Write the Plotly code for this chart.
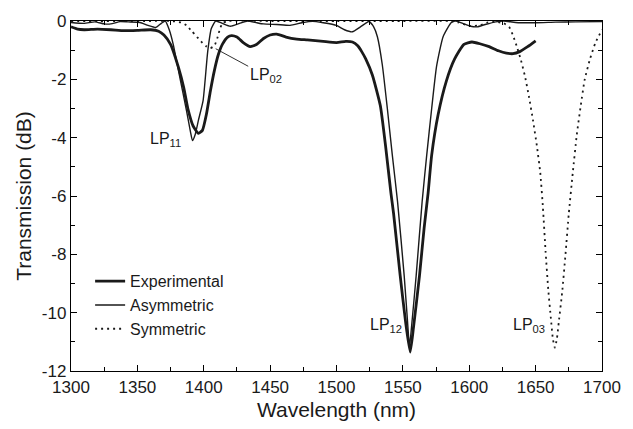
import plotly.graph_objects as go

# ---------------- data ----------------
exp_wl = [1300, 1305, 1310, 1320, 1330, 1340, 1350, 1360, 1366, 1370, 1375, 1381, 1385,
          1388, 1392, 1396, 1399, 1402, 1405, 1408, 1411, 1414, 1418, 1421, 1425, 1430,
          1435, 1440, 1445, 1450, 1455, 1462, 1470, 1478, 1490, 1500, 1507, 1512, 1516,
          1519, 1522, 1527, 1533, 1537, 1541, 1543, 1548, 1552, 1555.5, 1558, 1562.5,
          1566, 1569, 1571.7, 1576.6, 1582.8, 1589, 1596, 1602, 1608, 1615, 1622, 1628,
          1633, 1638, 1644, 1650]
exp_db = [-0.2, -0.28, -0.3, -0.28, -0.3, -0.33, -0.32, -0.3, -0.35, -0.48, -0.8, -1.6, -2.3,
          -3.0, -3.6, -3.85, -3.75, -3.2, -2.4, -1.7, -1.15, -0.8, -0.55, -0.5, -0.55, -0.75,
          -0.88, -0.8, -0.6, -0.48, -0.45, -0.55, -0.62, -0.65, -0.7, -0.74, -0.7, -0.72, -0.85,
          -1.05, -1.3, -1.85, -2.9, -4.3, -5.9, -6.6, -8.74, -10.3, -11.35, -10.5, -8.74,
          -7.1, -5.9, -4.6, -3.2, -2.05, -1.3, -0.8, -0.72, -0.78, -0.88, -1.02, -1.1,
          -1.12, -1.05, -0.88, -0.68]

asym_wl = [1300, 1310, 1318, 1325, 1330, 1337, 1343, 1352, 1358, 1364, 1368, 1371, 1374,
           1377, 1382, 1387, 1390, 1391.5, 1393.5, 1396, 1399.5, 1403, 1405.7, 1409, 1414,
           1420, 1427, 1433, 1440, 1445, 1455, 1465, 1474, 1482, 1490, 1500, 1506, 1512,
           1518, 1524.5, 1528, 1530.8, 1534.5, 1538.3, 1542, 1546, 1551, 1553.5, 1555,
           1556.5, 1560, 1564.5, 1568, 1571.7, 1575.4, 1580.3, 1586.5, 1590, 1596, 1601,
           1606, 1612, 1620, 1626, 1635, 1650, 1665, 1680, 1700]
asym_db = [-0.05, -0.08, -0.03, -0.1, -0.1, -0.02, -0.03, -0.05, -0.15, -0.22, -0.08, 0.0, -0.3,
           -0.8, -1.94, -3.07, -3.8, -4.1, -3.9, -3.4, -2.73, -1.04, -0.26, 0.0, -0.08,
           -0.18, -0.08, 0.0, -0.06, -0.1, -0.12, -0.15, -0.06, -0.01, -0.06, -0.15, -0.3, -0.37,
           -0.2, -0.02, -0.2, -0.54, -1.5, -3.0, -4.58, -6.2, -8.74, -10.3, -11.15,
           -10.5, -8.74, -6.2, -4.58, -3.0, -1.55, -0.54, -0.05, 0.0, -0.1, -0.18,
           -0.2, -0.12, -0.03, 0.0, -0.05, -0.06, -0.04, -0.03, -0.02]

sym_wl = [1300, 1320, 1340, 1360, 1375, 1383, 1387, 1391, 1395, 1399, 1402, 1405, 1408,
          1410.5, 1412, 1414, 1418, 1450, 1500, 1550, 1585, 1592, 1600, 1608, 1614, 1620,
          1626, 1630, 1633, 1636, 1639, 1642, 1645, 1648, 1651, 1653.5, 1655.5, 1657.5,
          1659.5, 1661.5, 1663, 1664.5, 1666, 1667.5, 1670, 1672.5, 1675, 1678, 1681, 1684,
          1687, 1691, 1695, 1700]
sym_db = [0.0, 0.0, 0.0, 0.0, 0.0, -0.05, -0.15, -0.35, -0.55, -0.75, -0.87, -0.93, -0.85,
          -0.55, -0.3, -0.08, 0.0, 0.0, 0.0, 0.0, 0.0, -0.05, -0.17, -0.15, -0.05, -0.03,
          -0.08, -0.2, -0.5, -0.9, -1.35, -1.9, -2.6, -3.4, -4.3, -5.2, -6.4, -7.9,
          -9.2, -10.2, -10.9, -11.2, -10.9, -10.3, -9.3, -8.0, -6.6, -5.2, -3.9, -2.9,
          -2.0, -1.3, -0.75, -0.3]

series_names = ["Experimental", "Asymmetric", "Symmetric"]

x_ticks = [1300, 1350, 1400, 1450, 1500, 1550, 1600, 1650, 1700]
y_ticks = [0, -2, -4, -6, -8, -10, -12]
y_ticktext = ["0", "-2", "-4", "-6", "-8", "-10", "-12"]

mode_labels = ["LP<sub>11</sub>", "LP<sub>02</sub>", "LP<sub>12</sub>", "LP<sub>03</sub>"]
mode_label_wl = [1371, 1443, 1537, 1645]
mode_label_db = [-4.05, -1.8, -10.45, -10.45]

lp02_tip_wl = 1409
lp02_tip_db = -0.95

# ---------------- figure ----------------
FONT = "Liberation Sans, Arial, Helvetica, sans-serif"

fig = go.Figure()
fig.add_trace(go.Scatter(x=exp_wl, y=exp_db, name=series_names[0], mode="lines",
                         line=dict(color="#1a1a1a", width=2.8, shape="spline", smoothing=0.5)))
fig.add_trace(go.Scatter(x=asym_wl, y=asym_db, name=series_names[1], mode="lines",
                         line=dict(color="#1a1a1a", width=1.4, shape="spline", smoothing=0.5)))
fig.add_trace(go.Scatter(x=sym_wl, y=sym_db, name=series_names[2], mode="lines",
                         line=dict(color="#1a1a1a", width=1.8, dash="2px,4px",
                                   shape="spline", smoothing=0.5)))

for i, txt in enumerate(mode_labels):
    if i == 1:
        fig.add_annotation(x=lp02_tip_wl, y=lp02_tip_db, text=txt, showarrow=True,
                           arrowhead=0, arrowwidth=0.9, arrowcolor="#1a1a1a",
                           ax=50, ay=27, standoff=0,
                           font=dict(family=FONT, size=16, color="#1a1a1a"))
    else:
        fig.add_annotation(x=mode_label_wl[i], y=mode_label_db[i], text=txt,
                           showarrow=False,
                           font=dict(family=FONT, size=16, color="#1a1a1a"))

axis_common = dict(showline=True, linecolor="black", linewidth=1.3, mirror="allticks",
                   ticks="inside", ticklen=6, tickwidth=1.2, tickcolor="black",
                   showgrid=False, zeroline=False,
                   tickfont=dict(family=FONT, size=17, color="#1a1a1a"))

fig.update_xaxes(range=[1300, 1700], tickvals=x_ticks,
                 minor=dict(dtick=25, ticks="inside", ticklen=3.5, tickwidth=1, tickcolor="black"),
                 title=dict(text="Wavelength (nm)", font=dict(family=FONT, size=21, color="#1a1a1a"),
                            standoff=6),
                 **axis_common)
fig.update_yaxes(range=[-12, 0], tickvals=y_ticks, ticktext=y_ticktext,
                 minor=dict(dtick=1, ticks="inside", ticklen=3.5, tickwidth=1, tickcolor="black"),
                 title=dict(text="Transmission (dB)", font=dict(family=FONT, size=21, color="#1a1a1a"),
                            standoff=4),
                 **axis_common)

fig.update_layout(
    width=633, height=429,
    margin=dict(l=71, r=23, t=19, b=55),
    paper_bgcolor="white", plot_bgcolor="white",
    showlegend=True,
    legend=dict(x=0.036, y=0.305, xanchor="left", yanchor="top",
                bgcolor="rgba(0,0,0,0)", borderwidth=0,
                font=dict(family=FONT, size=16, color="#1a1a1a"),
                tracegroupgap=0, itemwidth=30),
)

fig.write_html("out.html")
